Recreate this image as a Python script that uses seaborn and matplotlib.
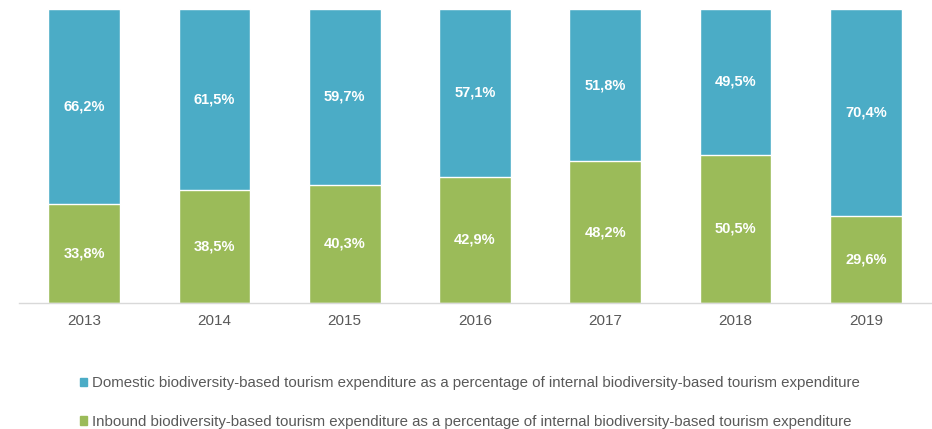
import matplotlib
matplotlib.use("Agg")
import matplotlib.pyplot as plt
from matplotlib.patches import Patch
import seaborn as sns
import numpy as np

years = ["2013", "2014", "2015", "2016", "2017", "2018", "2019"]
domestic = [66.2, 61.5, 59.7, 57.1, 51.8, 49.5, 70.4]
inbound = [33.8, 38.5, 40.3, 42.9, 48.2, 50.5, 29.6]

blue = "#4BACC6"
green = "#9BBB59"
grey = "#595959"

sns.set_theme(style="white")
plt.rcParams["font.family"] = ["Liberation Sans", "DejaVu Sans"]

fig = plt.figure(figsize=(9.32, 4.29), dpi=100)
ax = fig.add_axes([19 / 932, 1 - 303 / 429, 912 / 932, 294 / 429])

dom = np.array(domestic)
inb = np.array(inbound)

# stacked bars: full-height domestic bar with the inbound part drawn over its base
sns.barplot(x=years, y=inb + dom, color=blue, width=0.55, saturation=1,
            edgecolor="white", linewidth=1, ax=ax)
sns.barplot(x=years, y=inb, color=green, width=0.55, saturation=1,
            edgecolor="white", linewidth=1, ax=ax)

for i in range(len(years)):
    ax.text(i, inb[i] / 2, f"{inbound[i]:.1f}%".replace(".", ","), ha="center",
            va="center", color="white", fontsize=10.5, fontweight="bold")
    ax.text(i, inb[i] + dom[i] / 2, f"{domestic[i]:.1f}%".replace(".", ","),
            ha="center", va="center", color="white", fontsize=10.5, fontweight="bold")

ax.set_xlim(-0.5, 6.5)
ax.set_ylim(0, 100)
ax.set_yticks([])
ax.set_xlabel("")
ax.set_ylabel("")
for s in ["top", "right", "left"]:
    ax.spines[s].set_visible(False)
ax.spines["bottom"].set_color("#D9D9D9")
ax.spines["bottom"].set_linewidth(1)
ax.tick_params(axis="x", length=0, pad=8, labelsize=11, labelcolor=grey)

handles = [
    Patch(color=blue, label="Domestic biodiversity-based tourism expenditure as a percentage of internal biodiversity-based tourism expenditure"),
    Patch(color=green, label="Inbound biodiversity-based tourism expenditure as a percentage of internal biodiversity-based tourism expenditure"),
]
fig.legend(handles=handles, loc="upper left", bbox_to_anchor=(66 / 932, 1 - 363 / 429),
           frameon=False, ncol=1, labelcolor=grey,
           handlelength=0.5, handleheight=0.5, handletextpad=0.35,
           labelspacing=1.62, prop={"family": ["Liberation Sans", "DejaVu Sans"], "size": 10.8})

fig.savefig("out.png", dpi=100)
